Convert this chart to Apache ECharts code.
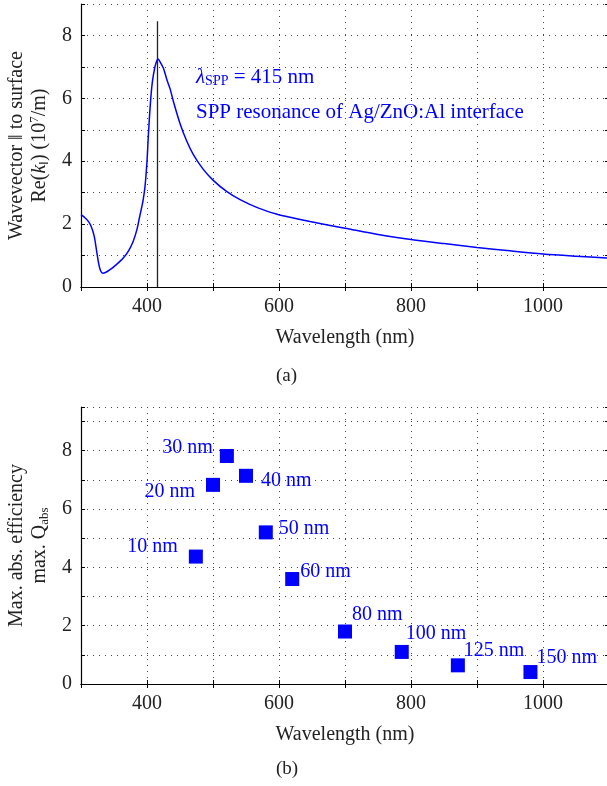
<!DOCTYPE html>
<html>
<head>
<meta charset="utf-8">
<script src="https://cdn.jsdelivr.net/npm/echarts@6/dist/echarts.min.js"></script>
<style>
  html, body { margin: 0; padding: 0; background: #fff; }
  #main { width: 607px; height: 786px; }
</style>
</head>
<body>
<div id="main"></div>
<script>
// (a) Re(k_par) vs wavelength
var waveA = [300, 305, 310, 315, 320, 324, 327, 330, 333, 337, 344, 354, 364, 372, 379, 385, 389, 394, 397, 400, 402, 405, 408, 412, 415, 417, 420, 425, 430, 435, 440, 450, 460, 470, 485, 500, 520, 541, 570, 596, 620, 647, 700, 750, 800, 850, 900, 950, 1000, 1050, 1100];
var kRe = [2.3, 2.22, 2.12, 1.95, 1.62, 1.1, 0.72, 0.5, 0.44, 0.46, 0.55, 0.72, 0.92, 1.15, 1.45, 1.85, 2.25, 2.75, 3.2, 4.0, 4.8, 5.8, 6.5, 7.0, 7.2, 7.25, 7.15, 6.95, 6.6, 6.3, 5.9, 5.2, 4.65, 4.22, 3.75, 3.4, 3.05, 2.78, 2.5, 2.32, 2.2, 2.08, 1.87, 1.67, 1.51, 1.38, 1.26, 1.15, 1.05, 0.98, 0.92];
var lambdaSpp = 415;

// (b) max. Q_abs per particle size
var sizes = ['10 nm', '20 nm', '30 nm', '40 nm', '50 nm', '60 nm', '80 nm', '100 nm', '125 nm', '150 nm'];
var waveB = [474, 500, 521, 550, 580, 620, 700, 786, 871, 981];
var qAbs = [4.37, 6.83, 7.82, 7.14, 5.2, 3.6, 1.8, 1.1, 0.64, 0.41];
var labelSide = ['left', 'left', 'left', 'right', 'right', 'right', 'right', 'right', 'right', 'right'];
var labelShift = [[0, -10], [0, 7], [0, -8], [0, 5], [0, -4], [0, -7], [0, -17], [-3, -18], [-1, -15], [-1, -14]];
var labelDist = [11, 11, 7, 8, 6, 1, 0, 0, 0, 0];

var FONT = '"Liberation Serif", "DejaVu Serif", serif';
var BLUE = '#0000ff';
var FS = 20;

var chart = echarts.init(document.getElementById('main'));

function xAx(gi, isMain) {
    return {
        type: 'value', gridIndex: gi, min: 300, max: 1100, interval: 100,
        position: isMain ? 'bottom' : 'top',
        name: isMain ? 'Wavelength (nm)' : '',
        nameLocation: 'middle', nameGap: 41,
        nameTextStyle: { fontFamily: FONT, fontSize: FS, color: '#222' },
        axisLine: { show: true, lineStyle: { color: '#000', width: 1.2 } },
        axisTick: { show: true, inside: true, length: 4, lineStyle: { color: '#000' } },
        axisLabel: {
            show: isMain, margin: 10, fontFamily: FONT, fontSize: FS, color: '#222',
            formatter: function (v) { return v % 200 === 0 ? String(v) : ''; }
        },
        splitLine: { show: isMain, lineStyle: { type: [1, 5], color: '#444', width: 1 } }
    };
}

function yAx(gi, isMain, max, nameText) {
    return {
        type: 'value', gridIndex: gi, min: 0, max: max, interval: 1,
        position: isMain ? 'left' : 'right',
        name: isMain ? nameText : '',
        nameLocation: 'middle', nameRotate: 90, nameGap: 30,
        nameTextStyle: {
            fontFamily: FONT, fontSize: FS, color: '#222', lineHeight: 23, align: 'center',
            rich: {
                n: { fontFamily: FONT, fontSize: FS, color: '#222', lineHeight: 23 },
                i: { fontFamily: FONT, fontSize: FS, color: '#222', fontStyle: 'italic', lineHeight: 23 },
                s: { fontFamily: FONT, fontSize: 13, color: '#222', lineHeight: 14, verticalAlign: 'bottom' },
                p: { fontFamily: FONT, fontSize: 13, color: '#222', lineHeight: 14, verticalAlign: 'top' }
            }
        },
        axisLine: { show: true, lineStyle: { color: '#000', width: 1.2 } },
        axisTick: { show: true, inside: true, length: 4, lineStyle: { color: '#000' } },
        axisLabel: {
            show: isMain, margin: 9, fontFamily: FONT, fontSize: FS, color: '#222',
            formatter: function (v) { return v % 2 === 0 ? String(v) : ''; }
        },
        splitLine: { show: isMain, lineStyle: { type: [1, 5], color: '#444', width: 1 } }
    };
}

var lineData = waveA.map(function (w, i) { return [w, kRe[i]]; });
var scatterData = waveB.map(function (w, i) {
    return {
        value: [w, qAbs[i]],
        name: sizes[i],
        label: { position: labelSide[i], distance: labelDist[i], offset: labelShift[i] }
    };
});

var option = {
    backgroundColor: '#fff',
    animation: false,
    grid: [
        { left: 81, top: 4, width: 528, height: 283, outerBoundsMode: 'none', containLabel: false },
        { left: 81, top: 407, width: 528, height: 277, outerBoundsMode: 'none', containLabel: false }
    ],
    xAxis: [xAx(0, true), xAx(0, false), xAx(1, true), xAx(1, false)],
    yAxis: [
        yAx(0, true, 9, '{n|Wavevector ‖ to surface}\n{n|Re(}{i|k}{s|‖}{n|) (10}{p|7}{n|/m)}'),
        yAx(0, false, 9, ''),
        yAx(1, true, 9.5, '{n|Max. abs. efficiency}\n{n|max. Q}{s|abs}'),
        yAx(1, false, 9.5, '')
    ],
    series: [
        {
            type: 'line', xAxisIndex: 0, yAxisIndex: 0,
            data: lineData, smooth: 0.3, showSymbol: false,
            lineStyle: { color: BLUE, width: 1.5 },
            markLine: {
                silent: true, symbol: 'none', label: { show: false },
                lineStyle: { color: '#222', width: 1.3, type: 'solid' },
                data: [[{ coord: [lambdaSpp, 0] }, { coord: [lambdaSpp, 8.45] }]]
            }
        },
        {
            type: 'scatter', xAxisIndex: 2, yAxisIndex: 2,
            data: scatterData, symbol: 'rect', symbolSize: 14,
            itemStyle: { color: BLUE, opacity: 1 },
            label: {
                show: true, fontFamily: FONT, fontSize: FS, color: BLUE,
                formatter: function (p) { return p.name; }
            }
        }
    ],
    graphic: [
        {
            type: 'text', left: 196, top: 67,
            style: {
                text: '{l|λ}{s|SPP}{n| = ' + lambdaSpp + ' nm}',
                rich: {
                    l: { fontFamily: FONT, fontSize: 21, fill: BLUE, fontStyle: 'italic' },
                    s: { fontFamily: FONT, fontSize: 14, fill: BLUE, verticalAlign: 'bottom', padding: [8, 0, 0, 0] },
                    n: { fontFamily: FONT, fontSize: 21, fill: BLUE }
                }
            }
        },
        {
            type: 'text', left: 196, top: 102,
            style: { text: 'SPP resonance of Ag/ZnO:Al interface', fontFamily: FONT, fontSize: 21, fill: BLUE }
        },
        {
            type: 'text', left: 276, top: 367,
            style: { text: '(a)', fontFamily: FONT, fontSize: 19, fill: '#222' }
        },
        {
            type: 'text', left: 276, top: 760,
            style: { text: '(b)', fontFamily: FONT, fontSize: 19, fill: '#222' }
        }
    ]
};

chart.setOption(option);
</script>
</body>
</html>
